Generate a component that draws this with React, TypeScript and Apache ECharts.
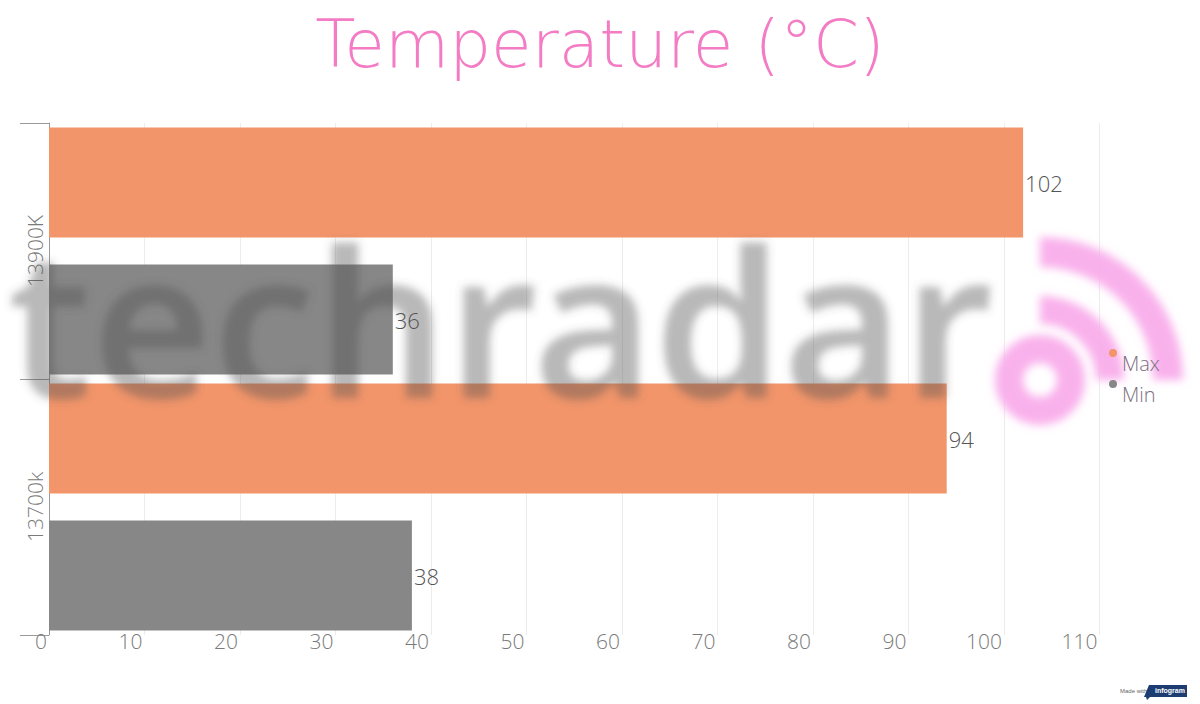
import React, { useEffect, useRef } from "react";
import * as echarts from "echarts";

const categories = ["13900K", "13700k"];
const maxValues = [102, 94];
const minValues = [36, 38];
const seriesNames = ["Max", "Min"];
const titleText = "Temperature (°C)";

const FONT = "'Open Sans', Lato, 'Noto Sans', sans-serif";

const watermarkSvg =
  "<svg xmlns='http://www.w3.org/2000/svg' width='1200' height='704' viewBox='0 0 1200 704'>" +
  "<defs><filter id='b' x='-5%' y='-20%' width='110%' height='140%'><feGaussianBlur stdDeviation='4.5'/></filter></defs>" +
  "<g filter='url(#b)'>" +
  "<text x='8' y='398' font-family='Noto Sans, DejaVu Sans, sans-serif' font-weight='600' font-size='205' fill='rgb(80,80,80)' fill-opacity='0.4' textLength='985' lengthAdjust='spacingAndGlyphs'>techradar</text>" +
  "<g fill='none' stroke='rgb(248,168,234)' stroke-opacity='0.9'>" +
  "<circle cx='1040' cy='380' r='31' stroke-width='28'/>" +
  "<path d='M1040,310 A70,70 0 0 1 1110,380' stroke-width='28'/>" +
  "<path d='M1040,252 A128,128 0 0 1 1168,380' stroke-width='30'/>" +
  "</g></g></svg>";
const watermarkUrl = "data:image/svg+xml;charset=utf-8," + encodeURIComponent(watermarkSvg);

export default function App() {
  const ref = useRef<HTMLDivElement>(null);
  useEffect(() => {
    if (!ref.current) return;
    const chart = echarts.init(ref.current, undefined, { renderer: "svg" });
    const labelCfg = {
      show: true,
      position: "right",
      distance: 2,
      fontSize: 22,
      fontFamily: FONT,
      fontWeight: 300,
      color: "#555",
    };
    chart.setOption({
      animation: false,
      backgroundColor: "#fff",
      title: {
        text: titleText,
        left: "center",
        top: 6,
        padding: 0,
        textStyle: {
          fontSize: 66,
          lineHeight: 76,
          fontWeight: 200,
          fontFamily: "'DejaVu Sans', sans-serif",
          color: "#F37CC4",
        },
      },
      legend: {
        data: seriesNames,
        orient: "vertical",
        left: 1109,
        top: 349,
        padding: 0,
        z: 200,
        icon: "path://M0,4a4,4 0 1,0 8,0a4,4 0 1,0 -8,0Z M3.99,28L4.01,28L4,27.99Z",
        itemWidth: 8,
        itemHeight: 28,
        itemGap: 3,
        textStyle: {
          fontSize: 20,
          fontFamily: FONT,
          fontWeight: 300,
          color: "#7d6f82",
        },
      },
      grid: { left: 49, right: 5, top: 123, bottom: 69, containLabel: false },
      xAxis: {
        type: "value",
        min: 0,
        max: 120,
        interval: 10,
        axisLine: { show: false },
        axisTick: { show: false },
        splitLine: { show: true, showMaxLine: false, lineStyle: { color: "#ececec", width: 1 } },
        axisLabel: {
          showMaxLabel: false,
          align: "right",
          verticalAlign: "middle",
          margin: 6,
          padding: [0, 2, 0, 0],
          fontSize: 21,
          fontFamily: FONT,
          fontWeight: 300,
          color: "#7a7a7a",
        },
      },
      yAxis: {
        type: "category",
        data: categories,
        inverse: true,
        axisLine: { show: true, lineStyle: { color: "#9a9a9a" } },
        axisTick: { show: true, length: 29, lineStyle: { color: "#9a9a9a" } },
        splitLine: { show: false },
        axisLabel: {
          rotate: 90,
          margin: 4,
          fontSize: 21,
          fontFamily: FONT,
          fontWeight: 300,
          color: "#7a7a7a",
        },
      },
      series: [
        {
          name: seriesNames[0],
          type: "bar",
          data: maxValues,
          barCategoryGap: "3.5%",
          barGap: "24.5%",
          itemStyle: { color: "#F2956A" },
          label: labelCfg,
        },
        {
          name: seriesNames[1],
          type: "bar",
          data: minValues,
          barCategoryGap: "3.5%",
          barGap: "24.5%",
          itemStyle: { color: "#878787" },
          label: labelCfg,
        },
      ],
      graphic: [
        {
          type: "image",
          z: 100,
          silent: true,
          style: { image: watermarkUrl, x: 0, y: 0, width: 1200, height: 704 },
        },
        {
          type: "text",
          z: 100,
          silent: true,
          x: 1120,
          y: 688,
          style: { text: "Made with", font: "6px sans-serif", fill: "#666" },
        },
        {
          type: "polygon",
          z: 100,
          silent: true,
          shape: { points: [[1149, 685], [1187, 685], [1187, 697], [1150, 697], [1147, 700], [1146, 697], [1144, 697]] },
          style: { fill: "#1d3c72" },
        },
        {
          type: "text",
          z: 101,
          silent: true,
          x: 1155,
          y: 687,
          style: { text: "infogram", font: "bold 7px sans-serif", fill: "#fff" },
        },
      ],
    });
    return () => chart.dispose();
  }, []);
  return (
    <div
      ref={ref}
      style={{ position: "fixed", left: 0, top: 0, width: 1200, height: 704 }}
    />
  );
}
